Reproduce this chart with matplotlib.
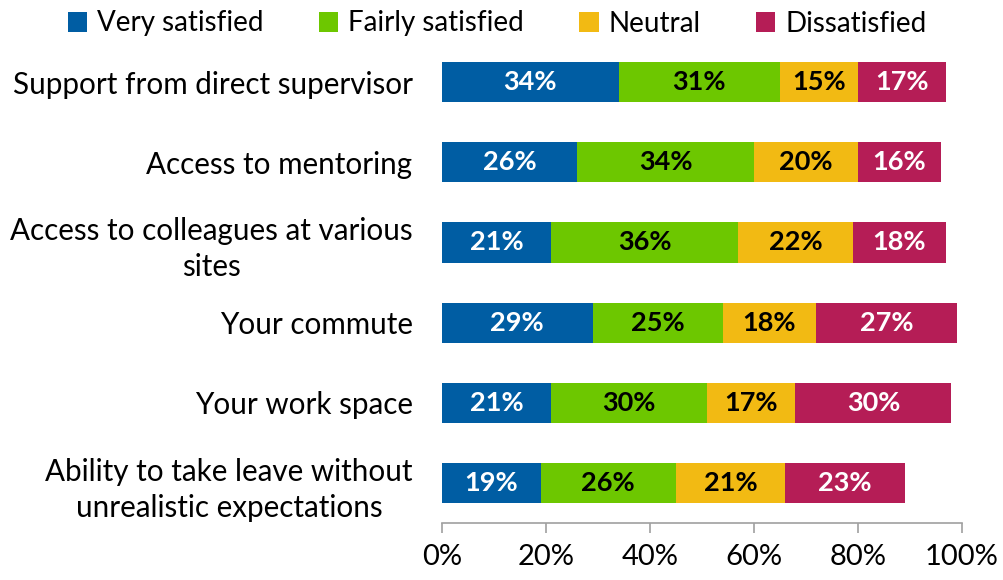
import numpy as np
import matplotlib.pyplot as plt
from matplotlib.patches import Patch
from matplotlib.ticker import FuncFormatter

plt.rcParams['font.family'] = ['Lato', 'DejaVu Sans']

# --------------------------------------------------- data
categories = ["Support from direct supervisor",
              "Access to mentoring",
              "Access to colleagues at various\nsites",
              "Your commute",
              "Your work space",
              "Ability to take leave without\nunrealistic expectations"]
series = ["Very satisfied", "Fairly satisfied", "Neutral", "Dissatisfied"]
very_satisfied = [34, 26, 21, 29, 21, 19]
fairly_satisfied = [31, 34, 36, 25, 30, 26]
neutral = [15, 20, 22, 18, 17, 21]
dissatisfied = [17, 16, 18, 27, 30, 23]

colors = ["#005DA3", "#6DC700", "#F2BA13", "#B51D56"]
text_colors = ["white", "black", "black", "white"]

# --------------------------------------------------- plotting
fig = plt.figure(figsize=(10.04, 5.8), dpi=100)
ax = fig.add_axes([0.440, 0.098, 0.518, 0.8296])

y = np.arange(len(categories))
left = np.zeros(len(categories))
for name, vals, c, tc in zip(series, [very_satisfied, fairly_satisfied, neutral, dissatisfied],
                             colors, text_colors):
    vals = np.array(vals)
    ax.barh(y, vals, left=left, height=0.5, color=c, label=name)
    for yi, l, v in zip(y, left, vals):
        ax.text(l + v / 2, yi, f"{v}%", ha='center', va='center',
                color=tc, fontsize=19.5, fontweight='bold')
    left += vals

ax.set_xlim(0, 100)
ax.set_ylim(len(categories) - 0.5, -0.5)
ax.set_yticks(y)
ax.set_yticklabels(categories, fontsize=21.3, linespacing=1.35)
for t in ax.get_yticklabels():
    t.set_multialignment('center')
ax.tick_params(axis='y', length=0, pad=21)
ax.set_xticks(np.arange(0, 101, 20))
ax.xaxis.set_major_formatter(FuncFormatter(lambda v, p: f"{int(v)}%"))
ax.tick_params(axis='x', labelsize=21, length=7, color='#A0A0A0', width=1.2, pad=8)
for s in ['top', 'right', 'left']:
    ax.spines[s].set_visible(False)
ax.spines['bottom'].set_color('#A0A0A0')
ax.spines['bottom'].set_linewidth(1.2)

handles = [Patch(facecolor=c, label=n) for c, n in zip(colors, series)]
fig.legend(handles=handles, loc='upper center', bbox_to_anchor=(0.495, 1.025), ncol=4,
           frameon=False, fontsize=20, handlelength=0.7, handleheight=0.7,
           handletextpad=0.35, columnspacing=2.0)

fig.savefig("out.png", dpi=100)
